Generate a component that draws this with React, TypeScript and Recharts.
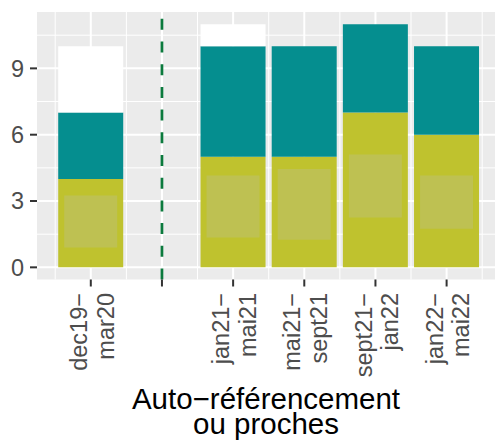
import { Bar, CartesianGrid, ComposedChart, Label, ReferenceLine, XAxis, YAxis } from "recharts";

// periods along the x axis; the empty slot holds the dashed separator
const periods = ["dec19−\nmar20", "", "jan21−\nmai21", "mai21−\nsept21", "sept21−\njan22", "jan22−\nmai22"];
const oliveValues = [4, null, 5, 5, 7, 6];
const tealValues = [3, null, 5, 5, 4, 4];
const whiteValues = [3, null, 1, 0, 0, 0];
const boxLow = [0.9, null, 1.35, 1.25, 2.25, 1.75];
const boxHigh = [3.25, null, 4.15, 4.45, 5.1, 4.15];
const yTicks = [0, 3, 6, 9];
const yMinor = [1.5, 4.5, 7.5, 10.5];
const separatorSlot = 2;
const xTitle = ["Auto−référencement", "ou proches"];

const positions = periods.map((_, i) => i + 1);
const xMinor = [...positions.map((p) => p - 0.5), positions[positions.length - 1] + 0.5];

const data = periods.map((label, i) => ({
  pos: i + 1,
  label,
  olive: oliveValues[i],
  teal: tealValues[i],
  white: whiteValues[i],
  box: boxLow[i] == null ? null : [boxLow[i], boxHigh[i]]
}));

const FONT = "'Liberation Sans', Arial, Helvetica, sans-serif";

function PeriodTick({ x, y, payload }: any) {
  const lines = (periods[payload.value - 1] ?? "").split("\n").filter(Boolean);
  if (!lines.length) return null;
  return (
    <g transform={`translate(${x},${y})`}>
      <text transform="rotate(-90)" textAnchor="end" fill="#4D4D4D" fontSize={23.5} fontFamily={FONT}>
        {lines.map((l, i) => (
          <tspan key={i} x={0} y={-3.8 + i * 26.6}>
            {l}
          </tspan>
        ))}
      </text>
    </g>
  );
}

function AxisTitle({ viewBox }: any) {
  const cx = viewBox.x + viewBox.width / 2;
  const bottom = viewBox.y + viewBox.height;
  return (
    <text textAnchor="middle" fill="#000000" fontSize={29.5} fontFamily={FONT}>
      <tspan x={cx} y={bottom - 33}>{xTitle[0]}</tspan>
      <tspan x={cx} y={bottom - 8}>{xTitle[1]}</tspan>
    </text>
  );
}

export default function App() {
  return (
    <div style={{ position: "absolute", left: 0, top: 0, background: "#fff" }}>
      <ComposedChart width={495} height={442} data={data} margin={{ top: 12, right: 0, bottom: 0, left: 0 }}>
        <CartesianGrid
          fill="#EBEBEB"
          stroke="#FFFFFF"
          strokeWidth={1}
          horizontalValues={yMinor}
          verticalValues={xMinor}
        />
        <CartesianGrid stroke="#FFFFFF" strokeWidth={2} horizontalValues={yTicks} verticalValues={positions} />
        <XAxis
          type="number"
          dataKey="pos"
          domain={[0.244, 6.68]}
          allowDataOverflow
          ticks={positions}
          interval={0}
          axisLine={false}
          tickSize={7}
          tickMargin={6.5}
          tickLine={{ stroke: "#333333", strokeWidth: 2 }}
          tick={<PeriodTick />}
          height={162.5}
        >
          <Label content={<AxisTitle />} />
        </XAxis>
        <XAxis xAxisId="box" type="number" dataKey="pos" domain={[0.244, 6.68]} allowDataOverflow ticks={positions} hide />
        <YAxis
          type="number"
          domain={[-0.55, 11.55]}
          allowDataOverflow
          ticks={yTicks}
          interval={0}
          width={37}
          axisLine={false}
          tickSize={7}
          tickMargin={6}
          tickLine={{ stroke: "#333333", strokeWidth: 2 }}
          tick={{ fill: "#4D4D4D", fontSize: 23.5, fontFamily: FONT }}
        />
        <Bar dataKey="olive" stackId="s" fill="#BFC22E" barSize={65} isAnimationActive={false} />
        <Bar dataKey="teal" stackId="s" fill="#058E8F" barSize={65} isAnimationActive={false} />
        <Bar dataKey="white" stackId="s" fill="#FFFFFF" barSize={65} isAnimationActive={false} />
        <Bar dataKey="box" xAxisId="box" fill="#BEC152" barSize={53} isAnimationActive={false} />
        <ReferenceLine x={separatorSlot} stroke="#0B7A3D" strokeWidth={2.7} strokeDasharray="11 11.7" />
      </ComposedChart>
    </div>
  );
}
